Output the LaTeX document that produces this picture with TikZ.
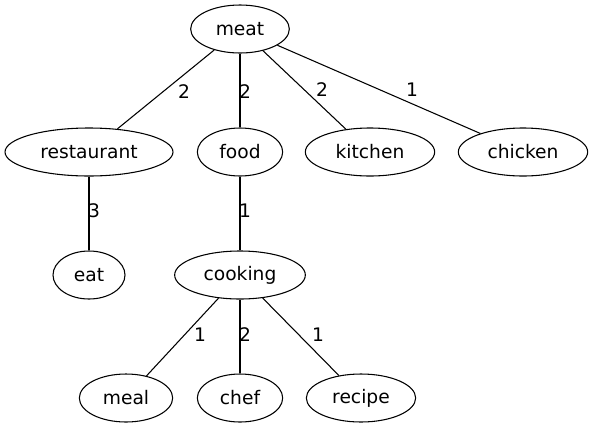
\documentclass[tikz,border=0pt]{standalone}
\usepackage{fontspec}
\setmainfont{DejaVu Sans}
\usetikzlibrary{shapes.geometric}
\tikzset{
  word/.style={draw, ellipse, inner sep=0pt, minimum height=36pt, line width=0.8pt, font=\fontsize{14pt}{16pt}\selectfont},
  weight/.style={inner sep=0pt, font=\fontsize{14pt}{16pt}\selectfont},
  link/.style={line width=0.8pt}
}
\begin{document}
\begin{tikzpicture}[x=0.75pt, y=-0.75pt]
    \useasboundingbox (0,0) rectangle (592,429);
    % words, row by row
    \node[word, minimum width=74pt] (meat) at (240,29) {meat};
    \node[word, minimum width=126pt] (restaurant) at (89,152) {restaurant};
    \node[word, minimum width=64pt] (food) at (240,152) {food};
    \node[word, minimum width=97pt] (kitchen) at (370,152) {kitchen};
    \node[word, minimum width=97pt] (chicken) at (523,152) {chicken};
    \node[word, minimum width=54pt] (eat) at (89,275) {eat};
    \node[word, minimum width=98pt] (cooking) at (240,275) {cooking};
    \node[word, minimum width=70pt] (meal) at (126,398) {meal};
    \node[word, minimum width=64pt] (chef) at (240,398) {chef};
    \node[word, minimum width=82pt] (recipe) at (361,398) {recipe};
    % edges with their weights
    \foreach \from/\to/\w/\lx/\ly in {
        meat/restaurant/2/184/92, meat/food/2/245/92,
        meat/kitchen/2/322/90, meat/chicken/1/412/90,
        restaurant/eat/3/94/211, food/cooking/1/245/211,
        cooking/meal/1/200/335, cooking/chef/2/245/335,
        cooking/recipe/1/318/335}
    {
        \draw[link] (\from) -- (\to);
        \node[weight] (w-\to) at (\lx,\ly) {\w};
    }
\end{tikzpicture}
\end{document}
